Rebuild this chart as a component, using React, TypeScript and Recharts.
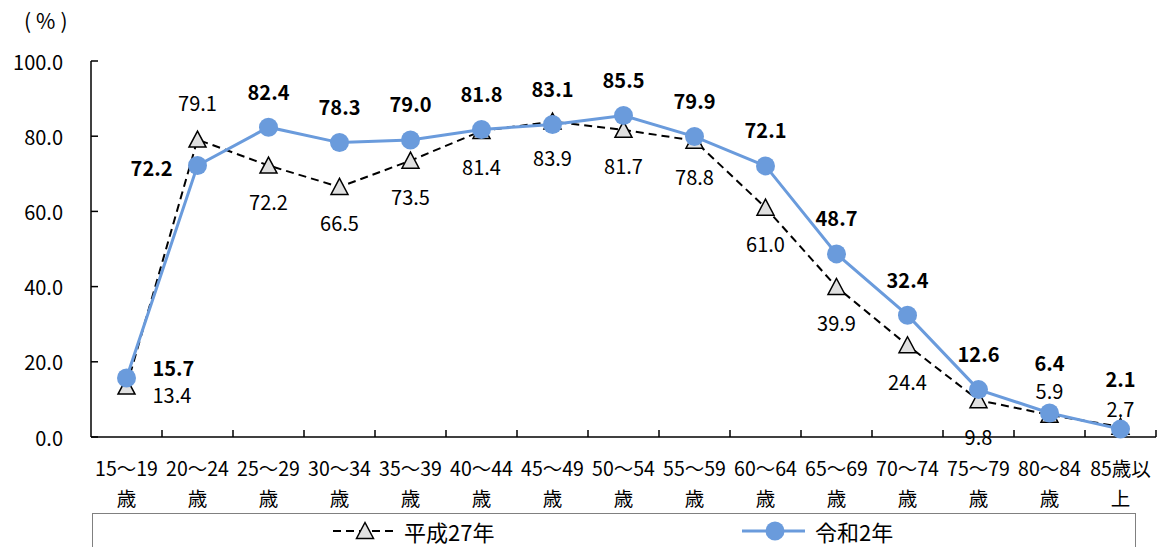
import React from 'react';
import { LineChart, Line, XAxis, YAxis, Legend } from 'recharts';

const AGE_GROUPS = [
  '15～19歳', '20～24歳', '25～29歳', '30～34歳', '35～39歳', '40～44歳', '45～49歳',
  '50～54歳', '55～59歳', '60～64歳', '65～69歳', '70～74歳', '75～79歳', '80～84歳', '85歳以上',
];
const H27_RATES = [13.4, 79.1, 72.2, 66.5, 73.5, 81.4, 83.9, 81.7, 78.8, 61.0, 39.9, 24.4, 9.8, 5.9, 2.7];
const R2_RATES = [15.7, 72.2, 82.4, 78.3, 79.0, 81.8, 83.1, 85.5, 79.9, 72.1, 48.7, 32.4, 12.6, 6.4, 2.1];
const Y_TICKS = [0, 20, 40, 60, 80, 100];

const chartData = AGE_GROUPS.map((name, i) => ({ name, h27: H27_RATES[i], r2: R2_RATES[i] }));

const W = 1158;
const H = 547;
const MARGIN = { top: 61, right: 2, left: 31, bottom: 0 };
const Y_AXIS_W = 60;
const BAND = (W - MARGIN.left - MARGIN.right - Y_AXIS_W) / AGE_GROUPS.length;
const FONT = '"Noto Sans CJK JP", "Noto Sans", sans-serif';
const BLUE = '#6a9bdc';

// label placement (label layout only)
const r2LabelPlace = (i: number) => {
  if (i === 0) return { dx: 26, dy: -10, anchor: 'start' };
  if (i === 1) return { dx: -25, dy: 2, anchor: 'end' };
  if (i === 13) return { dx: 0, dy: -50, anchor: 'middle' };
  if (i === 14) return { dx: 0, dy: -51, anchor: 'middle' };
  return { dx: 0, dy: -36, anchor: 'middle' };
};
const h27LabelPlace = (i: number) => {
  if (i === 0) return { dx: 26, dy: 8, anchor: 'start' };
  if (i === 1) return { dx: 0, dy: -37, anchor: 'middle' };
  if (i === 13) return { dx: 0, dy: -24, anchor: 'middle' };
  if (i === 14) return { dx: 0, dy: -18, anchor: 'middle' };
  return { dx: 0, dy: 36, anchor: 'middle' };
};

const R2Label = (props: any) => {
  const { x, y, value, index } = props;
  const p = r2LabelPlace(index);
  return (
    <text x={x + p.dx} y={y + p.dy} textAnchor={p.anchor} dominantBaseline="central"
      fontFamily={FONT} fontSize={20} fontWeight={700} fill="#000">
      {Number(value).toFixed(1)}
    </text>
  );
};

const H27Label = (props: any) => {
  const { x, y, value, index } = props;
  const p = h27LabelPlace(index);
  return (
    <text x={x + p.dx} y={y + p.dy} textAnchor={p.anchor} dominantBaseline="central"
      fontFamily={FONT} fontSize={20} fill="#000">
      {Number(value).toFixed(1)}
    </text>
  );
};

const Triangle = (props: any) => {
  const { cx, cy } = props;
  if (cx == null || cy == null) return null;
  return (
    <polygon
      points={`${cx},${cy - 8.5} ${cx - 8.5},${cy + 7.5} ${cx + 8.5},${cy + 7.5}`}
      fill="#e0e0e0" stroke="#000" strokeWidth={1.5}
    />
  );
};

const YTick = (props: any) => {
  const { x, y, payload } = props;
  return (
    <g>
      <line x1={x} x2={x + 7} y1={y} y2={y} stroke="#000" strokeWidth={1.5} />
      <text x={x - 28} y={y} textAnchor="end" dominantBaseline="central"
        fontFamily={FONT} fontSize={20} fill="#000">
        {Number(payload.value).toFixed(1)}
      </text>
    </g>
  );
};

const XTick = (props: any) => {
  const { x, y, payload } = props;
  const label: string = payload.value;
  const top = label.slice(0, -1);
  const bottom = label.slice(-1);
  const edge = x + BAND / 2;
  return (
    <g>
      <line x1={edge} x2={edge} y1={y} y2={y - 7} stroke="#000" strokeWidth={1.5} />
      <text x={x} y={y + 30} textAnchor="middle" dominantBaseline="central"
        fontFamily={FONT} fontSize={19.5} fill="#000">{top}</text>
      <text x={x} y={y + 60} textAnchor="middle" dominantBaseline="central"
        fontFamily={FONT} fontSize={19.5} fill="#000">{bottom}</text>
    </g>
  );
};

const LegendBox = () => (
  <div style={{ position: 'relative', width: W, height: 34 }}>
    <div style={{
      position: 'absolute', left: 92, top: 0, width: 1044, height: 44,
      border: '1px solid #808080', boxSizing: 'border-box',
    }} />
    <svg style={{ position: 'absolute', left: 330, top: 4 }} width={70} height={28}>
      <line x1={3} x2={65} y1={14} y2={14} stroke="#000" strokeWidth={2} strokeDasharray="8 5" />
      <polygon points="35,5.5 26.5,21.5 43.5,21.5" fill="#e0e0e0" stroke="#000" strokeWidth={1.5} />
    </svg>
    <span style={{
      position: 'absolute', left: 404, top: 3, fontFamily: FONT, fontSize: 22,
      lineHeight: '30px', color: '#000', whiteSpace: 'nowrap',
    }}>平成27年</span>
    <svg style={{ position: 'absolute', left: 740, top: 4 }} width={70} height={28}>
      <line x1={2} x2={65} y1={14} y2={14} stroke={BLUE} strokeWidth={3} />
      <circle cx={35} cy={14} r={9.5} fill={BLUE} />
    </svg>
    <span style={{
      position: 'absolute', left: 815, top: 3, fontFamily: FONT, fontSize: 22,
      lineHeight: '30px', color: '#000', whiteSpace: 'nowrap',
    }}>令和2年</span>
  </div>
);

export default function App() {
  return (
    <div style={{ position: 'absolute', left: 0, top: 0, width: W, height: H, background: '#fff', overflow: 'hidden' }}>
      <div style={{
        position: 'absolute', left: 24, top: 5, fontFamily: FONT, fontSize: 21, color: '#000', zIndex: 2,
        letterSpacing: 5, whiteSpace: 'nowrap',
      }}>(%)</div>
      <LineChart width={W} height={H} data={chartData} margin={MARGIN}>
        <XAxis dataKey="name" height={76} interval={0} tickSize={0} tickMargin={0}
          padding={{ left: BAND / 2, right: BAND / 2 }}
          tick={<XTick />} axisLine={{ stroke: '#000', strokeWidth: 1.5 }} tickLine={false} />
        <YAxis width={Y_AXIS_W} domain={[0, 100]} ticks={Y_TICKS} tickSize={0} tickMargin={0}
          tick={<YTick />} axisLine={{ stroke: '#000', strokeWidth: 1.5 }} tickLine={false} />
        <Legend verticalAlign="bottom" content={<LegendBox />}
          wrapperStyle={{ position: 'absolute', left: 0, top: 513, width: W, height: 34, overflow: 'hidden' }} />
        <Line dataKey="h27" name="平成27年" stroke="#000" strokeWidth={2} strokeDasharray="8 5"
          dot={<Triangle />} activeDot={false} label={<H27Label />} isAnimationActive={false} />
        <Line dataKey="r2" name="令和2年" stroke={BLUE} strokeWidth={3}
          dot={{ r: 9.5, fill: BLUE, stroke: 'none' }} activeDot={false} label={<R2Label />} isAnimationActive={false} />
      </LineChart>
    </div>
  );
}
